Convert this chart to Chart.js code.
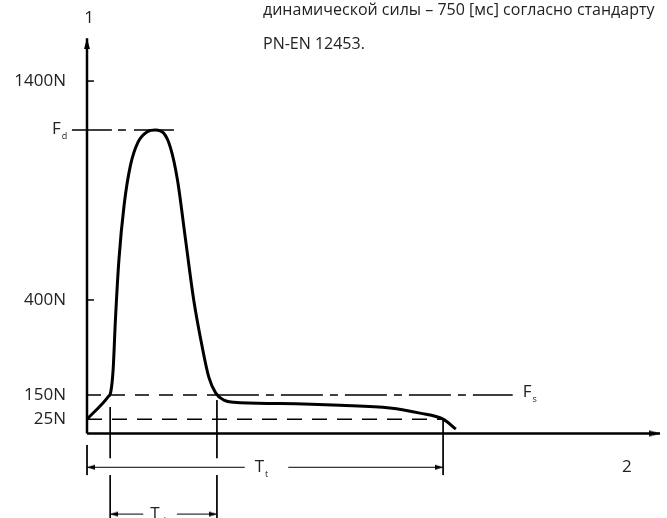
<!DOCTYPE html>
<html>
<head>
<meta charset="utf-8">
<script src="https://cdn.jsdelivr.net/npm/chart.js@4/dist/chart.umd.min.js"></script>
<style>
  body { margin: 0; background: #fff; }
  #wrap { position: relative; width: 667px; height: 518px; overflow: hidden; }
  #note {
    position: absolute; left: 263px; top: -8px; width: 380px;
    font: 16px "Open Sans", sans-serif; line-height: 34px; color: #222;
  }
  #note div { white-space: nowrap; }
</style>
</head>
<body>
<div id="wrap">
  <canvas id="myChart" width="667" height="518"></canvas>
  <div id="note">
    <div>динамической силы – 750 [мс] согласно стандарту</div>
    <div>PN-EN 12453.</div>
  </div>
</div>
<script>
// force curve (schematic units: x = time, y = force)
var curveX = [0, 3.6, 4.1, 4.5, 4.9, 5.5, 6.4, 7.5, 8.8, 10.4, 11.8, 13.2, 14.4, 15.6, 17.0, 18.4, 19.8, 21.0, 22.2, 23.6, 25.3, 33.3, 43.6, 52.2, 57.4, 61.4, 63.6];
var curveY = [3.3, 8.4, 9.6, 14.6, 26.2, 40.0, 52.7, 61.9, 67.2, 69.6, 70.0, 69.3, 65.9, 58.5, 44.6, 30.8, 20.4, 13.0, 9.3, 7.7, 7.2, 6.9, 6.5, 5.9, 4.7, 3.3, 1.0];

// y axis ticks
var yTickVals = [3.3, 8.9, 30.8, 81.3];
var yTickLabels = ["25N", "150N", "400N", "1400N"];

// levels and times
var fdLevel = 70.0;
var fdFrom = -2.6, fdTo = 15.5;
var fsTo = 73.4;
var tdStart = 4.0, tdEnd = 22.4, ttEnd = 61.4;
var yAxisTop = 91.2, xAxisEnd = 98.8;
var ttLevel = -7.8, tdLevel = -18.6;
var ttGap = [27.2, 34.7], tdGap = [9.7, 15.5];
var extTop = -5.7, extBottom = -19.5, extShort = -9.6, extStart = -2.65;

function makeArrow(len, half) {
  var c = document.createElement("canvas");
  c.width = half * 2 + 2;
  c.height = len * 2;
  var g = c.getContext("2d");
  g.fillStyle = "#000";
  g.beginPath();
  g.moveTo(c.width / 2, len);
  g.lineTo(c.width / 2 - half, len * 2);
  g.lineTo(c.width / 2 + half, len * 2);
  g.closePath();
  g.fill();
  return c;
}
var bigArrow = makeArrow(11, 3);
var smallArrow = makeArrow(8, 2.5);

function seg(pts, width, dash, arrowEnd, rot, arrowImg) {
  return {
    data: pts.map(function (p) { return { x: p[0], y: p[1] }; }),
    borderColor: "#000",
    borderWidth: width,
    borderDash: dash || [],
    pointRadius: pts.map(function (p, i) { return arrowEnd && i === pts.length - 1 ? 5 : 0; }),
    pointStyle: arrowImg || "circle",
    rotation: rot || 0,
    clip: false,
    tension: 0
  };
}

var datasets = [];
// axes
datasets.push(seg([[0, 0], [0, yAxisTop]], 2.5, null, true, 0, bigArrow));
datasets.push(seg([[0, 0], [xAxisEnd, 0]], 2.5, null, true, 90, bigArrow));
// tick marks
datasets.push(seg([[0, yTickVals[3]], [1.2, yTickVals[3]]], 1.5));
datasets.push(seg([[0, yTickVals[2]], [1.2, yTickVals[2]]], 1.5));
// level lines
datasets.push(seg([[fdFrom, fdLevel], [fdTo, fdLevel]], 1.5, [40, 6, 8, 8]));
datasets.push(seg([[0, yTickVals[1]], [tdEnd, yTickVals[1]]], 1.5, [14, 10]));
datasets.push(seg([[tdEnd, yTickVals[1]], [fsTo, yTickVals[1]]], 1.5, [42, 7, 8, 7]));
datasets.push(seg([[0, yTickVals[0]], [ttEnd, yTickVals[0]]], 1.5, [15, 10]));
// extension lines
datasets.push(seg([[0, extStart], [0, extShort]], 1));
datasets.push(seg([[tdStart, 6.1], [tdStart, extTop]], 1));
datasets.push(seg([[tdStart, extShort], [tdStart, extBottom]], 1));
datasets.push(seg([[tdEnd, 7.7], [tdEnd, extTop]], 1));
datasets.push(seg([[tdEnd, extShort], [tdEnd, extBottom]], 1));
datasets.push(seg([[ttEnd, yTickVals[0]], [ttEnd, extShort]], 1));
// dimension arrows
datasets.push(seg([[ttGap[0], ttLevel], [0, ttLevel]], 1, null, true, 270, smallArrow));
datasets.push(seg([[ttGap[1], ttLevel], [ttEnd, ttLevel]], 1, null, true, 90, smallArrow));
datasets.push(seg([[tdGap[0], tdLevel], [tdStart, tdLevel]], 1, null, true, 270, smallArrow));
datasets.push(seg([[tdGap[1], tdLevel], [tdEnd, tdLevel]], 1, null, true, 90, smallArrow));
// force curve
var curve = seg(curveX.map(function (x, i) { return [x, curveY[i]]; }), 3);
curve.cubicInterpolationMode = "monotone";
datasets.push(curve);

var font = '"Open Sans", sans-serif';

function subText(ctx, main, sub, px, py, size) {
  ctx.textAlign = "left";
  ctx.textBaseline = "middle";
  ctx.font = size + "px " + font;
  ctx.fillText(main, px, py);
  var w = ctx.measureText(main).width;
  ctx.font = Math.round(size * 0.5) + "px " + font;
  ctx.fillText(sub, px + w + 1, py + size * 0.45);
}

var labelPlugin = {
  id: "labels",
  afterDatasetsDraw: function (chart) {
    var ctx = chart.ctx, x = chart.scales.x, y = chart.scales.y;
    var x0 = x.getPixelForValue(0);
    ctx.save();
    ctx.fillStyle = "#222";
    ctx.font = "17px " + font;
    ctx.textAlign = "right";
    ctx.textBaseline = "middle";
    yTickVals.forEach(function (v, i) {
      ctx.fillText(yTickLabels[i], x0 - 21, y.getPixelForValue(v));
    });
    ctx.textAlign = "center";
    ctx.fillText("1", x0 + 2, y.getPixelForValue(yAxisTop) - 20);
    ctx.fillText("2", x.getPixelForValue(93.1), y.getPixelForValue(ttLevel));
    subText(ctx, "F", "d", x0 - 35, y.getPixelForValue(fdLevel) - 1, 17);
    subText(ctx, "F", "s", x.getPixelForValue(fsTo) + 10, y.getPixelForValue(yTickVals[1]) - 3, 17);
    subText(ctx, "T", "t", x.getPixelForValue(30.3) - 8, y.getPixelForValue(ttLevel), 17);
    subText(ctx, "T", "d", x.getPixelForValue(12.1) - 7, y.getPixelForValue(tdLevel), 17);
    ctx.restore();
  }
};

var myChart = document.getElementById("myChart").getContext("2d");
var chart = new Chart(myChart, {
  type: "line",
  data: { datasets: datasets },
  options: {
    responsive: false,
    animation: false,
    layout: { padding: 0, autoPadding: false },
    plugins: { legend: { display: false }, tooltip: { enabled: false } },
    scales: {
      x: { type: "linear", display: false, min: -15, max: 100 },
      y: { type: "linear", display: false, min: -19.5, max: 100 }
    }
  },
  plugins: [labelPlugin]
});
</script>
</body>
</html>
